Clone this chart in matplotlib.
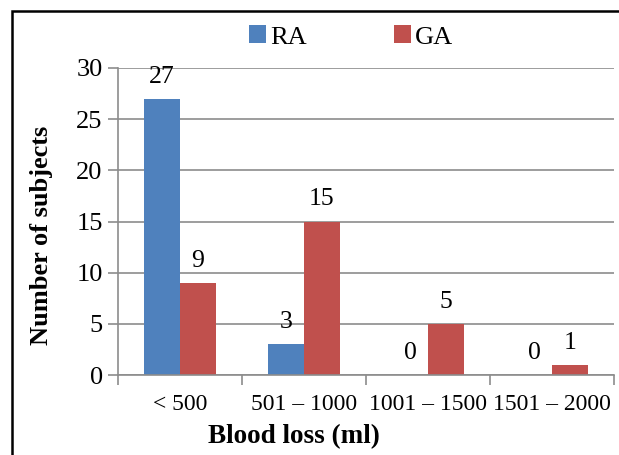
import numpy as np
import matplotlib.pyplot as plt
from matplotlib.patches import Rectangle

# data
categories = ["< 500", "501 \u2013 1000", "1001 \u2013 1500", "1501 \u2013 2000"]
ra_values = [27, 3, 0, 0]
ga_values = [9, 15, 5, 1]
series_names = ["RA", "GA"]
y_ticks = [0, 5, 10, 15, 20, 25, 30]

plt.rcParams['font.family'] = ['Liberation Serif', 'DejaVu Serif']

W, H = 619, 455
fig = plt.figure(figsize=(W / 100, H / 100), dpi=100)
ax = fig.add_axes([118 / W, 1 - 375 / H, (614 - 118) / W, (375 - 68) / H])

blue = '#4F81BD'
red = '#C0504D'
grey = '#8C8C8C'

x = np.arange(len(categories))
bw = 0.29
b1 = ax.bar(x - bw / 2, ra_values, bw, color=blue, label=series_names[0])
b2 = ax.bar(x + bw / 2, ga_values, bw, color=red, label=series_names[1])

# value labels above bars
for bars, vals in [(b1, ra_values), (b2, ga_values)]:
    for b, v in zip(bars, vals):
        ax.annotate(str(v), (b.get_x() + b.get_width() / 2, v),
                    xytext=(0, 8), textcoords='offset points',
                    ha='center', va='bottom', fontsize=18.5)

ax.set_xlim(-0.5, len(categories) - 0.5)
ax.set_ylim(0, 30)
ax.set_yticks(y_ticks)
ax.yaxis.grid(True, color=grey, linewidth=1.2)
ax.set_axisbelow(True)

# category labels in the middle, tick marks at the boundaries
ax.set_xticks(np.arange(len(categories) + 1) - 0.5)
ax.set_xticklabels([])
ax.set_xticks(x, minor=True)
ax.set_xticklabels(categories, minor=True, fontsize=17)
ax.tick_params(axis='x', which='minor', length=0, pad=14)
ax.tick_params(axis='x', which='major', length=7, color=grey, width=1.2)
ax.tick_params(axis='y', length=7, color=grey, width=1.2, labelsize=19, pad=4)

for s in ['top', 'right']:
    ax.spines[s].set_visible(False)
for s in ['left', 'bottom']:
    ax.spines[s].set_color(grey)
    ax.spines[s].set_linewidth(1.2)

fig.text(294 / W, 1 - 437 / H, "Blood loss (ml)", ha='center', va='center',
         fontsize=19.5, fontweight='bold')
fig.text(42 / W, 1 - 235 / H, "Number of subjects", ha='center', va='center',
         rotation=90, fontsize=19, fontweight='bold')

fig.legend(loc='center', bbox_to_anchor=(351 / W, 1 - 37 / H), ncol=2,
           frameon=False, fontsize=19, handlelength=0.65, handleheight=0.65,
           handletextpad=0.15, columnspacing=3.3)

# outer frame (cut off on the right and bottom)
fig.patches.append(Rectangle((12 / W, -0.1), 1.0, 1.1 - 11 / H,
                             transform=fig.transFigure, fill=False,
                             edgecolor='black', linewidth=1.8))

fig.savefig('out.png', dpi=100)
